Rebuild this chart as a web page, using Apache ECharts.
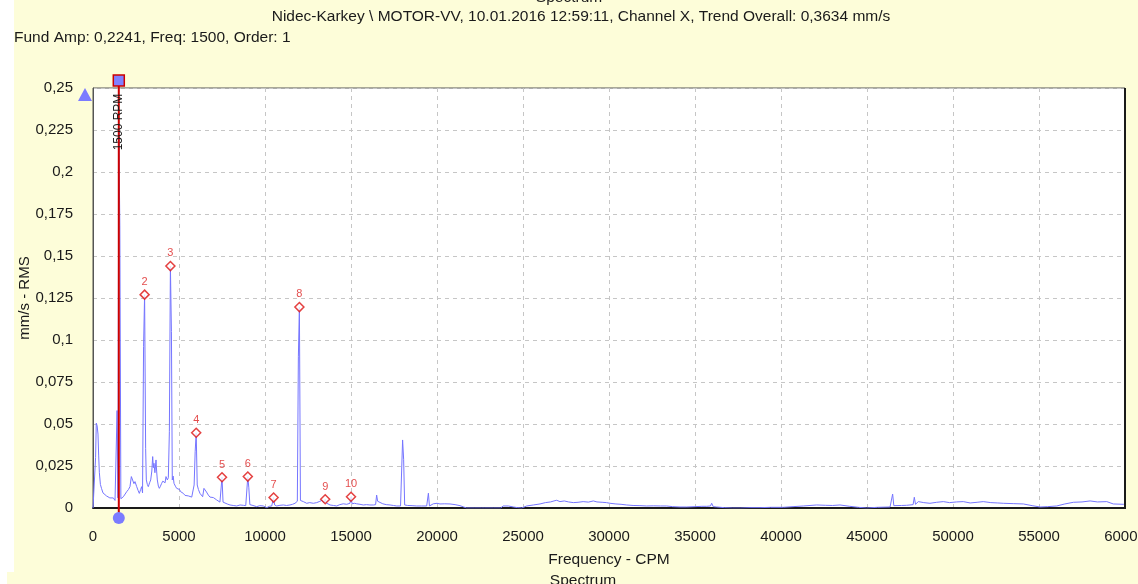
<!DOCTYPE html>
<html>
<head>
<meta charset="utf-8">
<script src="https://cdn.jsdelivr.net/npm/echarts@6/dist/echarts.min.js"></script>
<style>
html,body{margin:0;padding:0;background:#fdfdd9;}
#c{width:1138px;height:584px;}
</style>
</head>
<body>
<div id="c"></div>
<script>
// ---------- data ----------
const titleTop = 'Spectrum';
const titleInfo = 'Nidec-Karkey \\ MOTOR-VV, 10.01.2016 12:59:11, Channel X, Trend Overall: 0,3634 mm/s';
const fundInfo = 'Fund Amp: 0,2241, Freq: 1500, Order: 1';
const xAxisName = 'Frequency - CPM';
const yAxisName = 'mm/s - RMS';
const bottomTitle = 'Spectrum';
const rpmLabel = '1500 RPM';
const fundFreq = 1500;

const harmonicOrders = [2, 3, 4, 5, 6, 7, 8, 9, 10];
const harmonicFreqs = [3000, 4500, 6000, 7500, 9000, 10500, 12000, 13500, 15000];
const harmonicAmps = [0.127, 0.144, 0.0448, 0.0183, 0.0187, 0.0062, 0.1196, 0.0052, 0.0067];

// [frequency CPM, amplitude mm/s]
const spectrum = [
[0,0],[100,0],[150,0.030],[190,0.0505],[240,0.049],[290,0.044],[330,0.031],[370,0.021],[430,0.014],[500,0.0115],
[580,0.009],[680,0.0085],[780,0.0072],[880,0.0062],[980,0.006],[1080,0.0056],[1180,0.006],[1280,0.0045],[1340,0.005],[1400,0.058],
[1450,0.006],[1500,0.2241],[1560,0.168],[1620,0.0055],[1700,0.0058],[1765,0.0067],[1860,0.0075],[1958,0.0097],[2060,0.011],[2150,0.0127],
[2230,0.0187],[2305,0.0177],[2380,0.0145],[2442,0.0157],[2540,0.0127],[2620,0.0105],[2693,0.0087],[2770,0.011],[2830,0.0127],[2880,0.009],
[2940,0.096],[3000,0.127],[3060,0.0355],[3100,0.0167],[3160,0.014],[3215,0.0127],[3290,0.015],[3355,0.0167],[3420,0.022],[3470,0.0306],
[3510,0.024],[3545,0.0266],[3600,0.021],[3663,0.0286],[3700,0.022],[3740,0.0167],[3800,0.013],[3857,0.0117],[3920,0.013],[3993,0.0147],
[4060,0.016],[4128,0.0167],[4190,0.015],[4244,0.0187],[4322,0.0167],[4380,0.018],[4440,0.0454],[4500,0.144],[4560,0.105],[4610,0.0167],
[4660,0.019],[4710,0.0147],[4790,0.013],[4865,0.0117],[4962,0.0127],[5030,0.011],[5098,0.0097],[5170,0.0105],[5253,0.0087],[5350,0.0075],
[5447,0.0067],[5540,0.0072],[5640,0.0077],[5740,0.0065],[5834,0.0058],[5880,0.0137],[5940,0.0335],[6000,0.0448],[6060,0.0137],[6130,0.011],
[6220,0.0087],[6300,0.0077],[6376,0.0067],[6450,0.0117],[6512,0.0117],[6600,0.0095],[6706,0.0077],[6800,0.0065],[6900,0.0058],[7000,0.0062],
[7093,0.0067],[7190,0.0048],[7287,0.0037],[7380,0.0035],[7440,0.0045],[7500,0.0183],[7560,0.0035],[7675,0.0028],[7800,0.0024],[7965,0.0018],
[8150,0.0015],[8353,0.0012],[8550,0.0018],[8740,0.0016],[8880,0.0014],[8940,0.002],[9000,0.0187],[9060,0.012],[9120,0.002],[9300,0.0015],
[9515,0.0008],[9700,0.0014],[9900,0.0012],[10100,0.0002],[10250,0.001],[10390,0.0012],[10450,0.0015],[10500,0.0062],[10560,0.0018],[10680,0.0012],
[10870,0.0016],[11065,0.0018],[11250,0.0015],[11453,0.0018],[11600,0.0022],[11744,0.0028],[11880,0.004],[11940,0.09],[12000,0.1196],[12060,0.0045],
[12130,0.004],[12230,0.0038],[12425,0.0028],[12600,0.0032],[12810,0.0028],[13005,0.0032],[13150,0.0038],[13295,0.0045],[13440,0.003],[13500,0.0052],
[13560,0.003],[13780,0.0018],[13980,0.0015],[14170,0.0012],[14350,0.002],[14550,0.0025],[14750,0.0022],[14940,0.0028],[15000,0.0067],[15060,0.0025],
[15200,0.0028],[15330,0.0025],[15520,0.0022],[15715,0.0018],[15900,0.002],[16100,0.0018],[16300,0.0018],[16430,0.002],[16490,0.0077],[16550,0.004],
[16650,0.0035],[16850,0.0025],[17050,0.002],[17270,0.0018],[17470,0.0015],[17655,0.0012],[17880,0.0012],[17940,0.0015],[18000,0.0405],[18060,0.029],
[18120,0.0018],[18300,0.0015],[18550,0.0014],[18820,0.0012],[19100,0.0012],[19400,0.0012],[19440,0.0012],[19500,0.0088],[19560,0.0012],[19785,0.0025],
[20000,0.0028],[20175,0.0024],[20450,0.0025],[20755,0.0024],[21050,0.002],[21337,0.0014],[21550,0.0006],[21725,0],[22200,0],[22600,0],
[22690,0.0004],[22780,0],[23300,0],[23700,0],[23850,0.0012],[23950,0.0018],[24150,0.0012],[24440,0.0006],[24700,0.0002],[24925,0],
[25215,0.0012],[25600,0.0018],[25990,0.0024],[26300,0.0032],[26600,0.0036],[26800,0.0042],[26960,0.0046],[27150,0.0038],[27400,0.0042],[27650,0.0036],
[27925,0.0032],[28200,0.0034],[28500,0.0038],[28800,0.0035],[29090,0.0042],[29300,0.0036],[29600,0.0034],[29850,0.0032],[30060,0.0028],[30400,0.0024],
[30700,0.0022],[31030,0.0018],[31400,0.0015],[31800,0.0014],[32190,0.0012],[32600,0.0013],[33000,0.0012],[33355,0.0012],[33700,0.0008],[34130,0.0006],
[34520,0.0006],[35000,0.0008],[35400,0.001],[35680,0.001],[35900,0.0012],[35970,0.0028],[36060,0.0008],[36260,0.0006],[36700,0.0002],[37200,0],
[37620,0],[38200,0.0002],[38780,0.0002],[39400,0.0004],[40130,0.0004],[40700,0.0008],[41300,0.0012],[42075,0.0018],[42600,0.0016],[43000,0.0015],
[43430,0.0018],[44000,0.001],[44500,0.0004],[44980,0],[45600,0.0004],[46340,0.0006],[46420,0.0008],[46490,0.0083],[46560,0.0014],[46630,0.0012],
[47000,0.0015],[47300,0.0016],[47500,0.0018],[47680,0.002],[47750,0.0064],[47820,0.0022],[47985,0.0038],[48300,0.0032],[48660,0.0028],[49050,0.0034],
[49440,0.0038],[49800,0.0032],[50200,0.0036],[50600,0.0038],[51000,0.003],[51400,0.0034],[51760,0.0038],[52200,0.0032],[52600,0.003],[52925,0.0028],
[53500,0.0026],[54090,0.0024],[54600,0.0014],[55060,0.0006],[55500,0.0008],[56030,0.0012],[56500,0.0024],[57000,0.0034],[57500,0.0036],[57970,0.0042],
[58400,0.0036],[58940,0.0038],[59320,0.0024],[59900,0.0022],[60000,0.0022]
];

// ---------- chart ----------
const FONT = "'Liberation Sans', Arial, sans-serif";
const chart = echarts.init(document.getElementById('c'), null, {renderer: 'canvas', width: 1138, height: 584});

const fmtNum = v => String(Number(v.toFixed(4))).replace('.', ',');

chart.setOption({
  animation: false,
  backgroundColor: '#fdfdd9',
  grid: {left: 93, top: 88, right: 13, bottom: 76, containLabel: false, outerBoundsMode: 'none',
    show: true, backgroundColor: '#ffffff', borderColor: '#555555', borderWidth: 1},
  xAxis: {
    type: 'value', min: 0, max: 60000, interval: 5000,
    axisLine: {show: true, onZero: false, lineStyle: {color: '#1a1a1a', width: 2}},
    axisTick: {show: false},
    axisLabel: {margin: 21, fontSize: 15, color: '#1a1a1a', fontFamily: FONT, formatter: v => String(v), hideOverlap: false},
    splitLine: {show: true, lineStyle: {color: '#c6c6c6', type: [4, 4], width: 1}}
  },
  yAxis: {
    type: 'value', min: 0, max: 0.25, interval: 0.025,
    axisLine: {show: true, lineStyle: {color: '#555555', width: 1}},
    axisTick: {show: false},
    axisLabel: {margin: 20, fontSize: 15, color: '#1a1a1a', fontFamily: FONT, formatter: fmtNum},
    splitLine: {show: true, lineStyle: {color: '#c6c6c6', type: [4, 4], width: 1}}
  },
  series: [
    {
      type: 'line', data: spectrum, showSymbol: false, symbol: 'none',
      lineStyle: {color: '#7575ff', width: 1}, z: 3
    },
    {
      type: 'scatter',
      data: harmonicFreqs.map((f, i) => [f, harmonicAmps[i], harmonicOrders[i]]),
      symbol: 'diamond', symbolSize: [9, 9],
      itemStyle: {color: '#ffffff', borderColor: '#dd1111', borderWidth: 1.5},
      label: {show: true, position: 'top', distance: 2, color: '#dd2222', fontSize: 11, fontFamily: FONT,
        formatter: p => String(p.value[2])},
      z: 5
    }
  ]
});

function drawOverlays() {
  const xPix = chart.convertToPixel({xAxisIndex: 0}, fundFreq);
  const xRight = chart.convertToPixel({xAxisIndex: 0}, 60000);
  const yTop = chart.convertToPixel({yAxisIndex: 0}, 0.25);
  const yBot = chart.convertToPixel({yAxisIndex: 0}, 0);
  const xLeft = chart.convertToPixel({xAxisIndex: 0}, 0);
  const txt = (text, x, y, align, size, extra) => Object.assign({
    type: 'text', x: x, y: y,
    style: {text: text, fill: '#1a1a1a', font: size + 'px ' + FONT, textAlign: align, textVerticalAlign: 'middle'}
  }, extra || {});
  chart.setOption({
    graphic: [
      {type: 'rect', shape: {x: 0, y: 0, width: 14, height: 572}, style: {fill: '#ffffff'}, z: 0},
      {type: 'rect', shape: {x: 0, y: 572, width: 7, height: 12}, style: {fill: '#ffffff'}, z: 0},
      txt(titleTop, 569, -2, 'center', 15.5),
      txt(titleInfo, 581, 17, 'center', 15.5),
      txt(fundInfo, 14, 38, 'left', 15.5),
      txt(xAxisName, 609, 560, 'center', 15.5),
      txt(bottomTitle, 583, 581, 'center', 15.5),
      txt(yAxisName, 25, (yTop + yBot) / 2, 'center', 15, {rotation: Math.PI / 2}),
      // right frame edge
      {type: 'line', shape: {x1: xRight, y1: yTop, x2: xRight, y2: yBot + 1}, style: {stroke: '#1a1a1a', lineWidth: 2}, z: 10},
      // fundamental cursor line
      {type: 'line', shape: {x1: xPix, y1: yTop - 7, x2: xPix, y2: yBot + 10}, style: {stroke: '#cc0000', lineWidth: 2}, z: 20},
      {type: 'rect', shape: {x: xPix - 5.5, y: yTop - 13, width: 11, height: 11}, style: {fill: '#8080ff', stroke: '#cc0000', lineWidth: 1.5}, z: 21},
      {type: 'circle', shape: {cx: xPix, cy: yBot + 10, r: 6}, style: {fill: '#7b7bff'}, z: 21},
      {type: 'text', x: xPix - 0.5, y: yTop + 34, rotation: Math.PI / 2, z: 22,
        style: {text: rpmLabel, fill: '#1a1a1a', font: '12px ' + FONT, textAlign: 'center', textVerticalAlign: 'middle'}},
      // amplitude cursor triangle
      {type: 'polygon', shape: {points: [[xLeft - 8, yTop], [xLeft - 15, yTop + 13], [xLeft - 1, yTop + 13]]}, style: {fill: '#7b7bff'}, z: 21}
    ]
  });
}
drawOverlays();
</script>
</body>
</html>
